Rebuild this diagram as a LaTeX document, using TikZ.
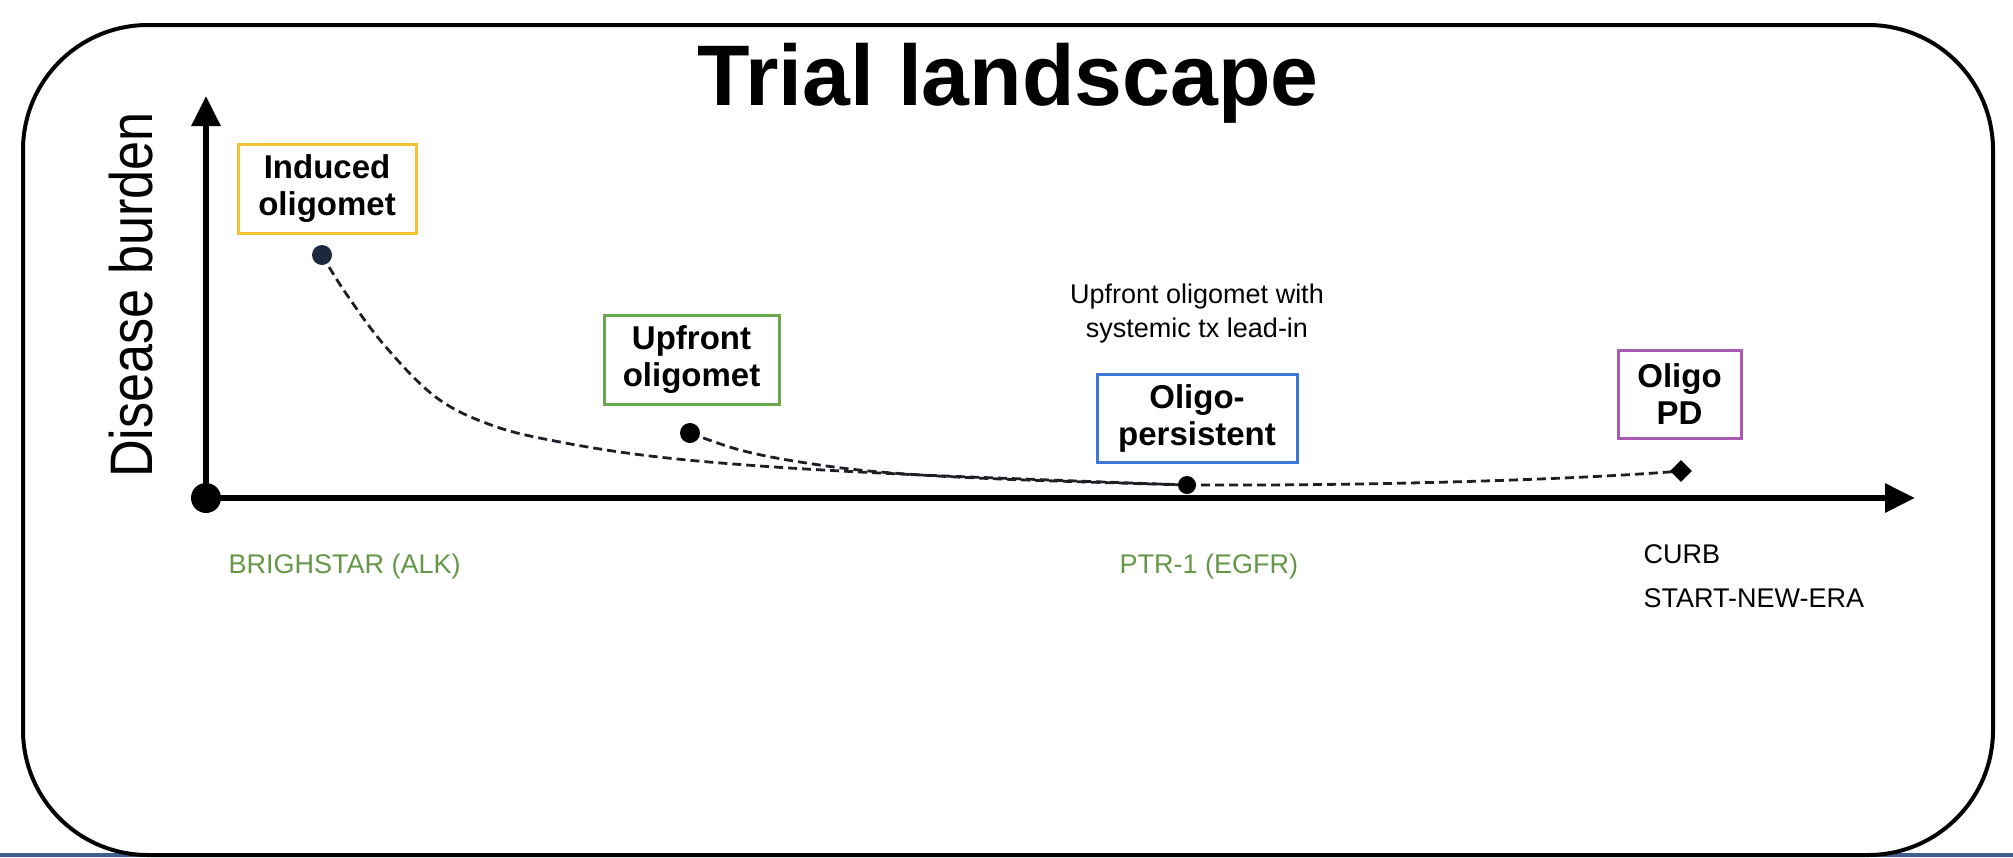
\documentclass[tikz,border=0pt]{standalone}
\usepackage{fontspec}
\setmainfont{Liberation Sans}
\usetikzlibrary{arrows.meta,shapes.geometric}

\definecolor{boxyellow}{RGB}{241,194,50}
\definecolor{boxgreen}{RGB}{106,168,79}
\definecolor{boxblue}{RGB}{60,120,216}
\definecolor{boxpurple}{RGB}{166,90,176}
\definecolor{trialgreen}{RGB}{100,152,72}
\definecolor{navydot}{RGB}{28,40,62}
\definecolor{barblue}{RGB}{62,96,140}
\definecolor{barlight}{RGB}{200,210,222}
\definecolor{curvegray}{RGB}{30,30,38}

\pgfdeclarelayer{background}
\pgfsetlayers{background,main}

\begin{document}
\begin{tikzpicture}[x=1pt,y=-1pt,
  stagebox/.style={draw=#1, line width=3pt, fill=white, align=center,
    inner sep=0pt, font=\fontsize{33}{37}\selectfont\bfseries},
  dot/.style={circle, fill=black, minimum size=20pt, inner sep=0pt},
  axisline/.style={line width=6pt, -{Triangle[length=30pt,width=28pt]}},
  trend/.style={curvegray, line width=2.8pt, dash pattern=on 9pt off 5pt},
  trial/.style={anchor=base west, font=\fontsize{27}{33}\selectfont},
]
\useasboundingbox (0,0) rectangle (2013,857);

% slide footer strip
\fill[barblue] (0,853) rectangle (1264,857);
\fill[barlight] (1264,853) rectangle (1680,857);
\fill[barblue] (1680,853) rectangle (2013,857);

% outer rounded frame
\draw[line width=4pt, rounded corners=125pt] (23,25) rectangle (1993,855);

% title
\node[anchor=base, font=\fontsize{86}{90}\selectfont\bfseries] (title)
  at (1008,105) {Trial landscape};

% axes
\node[circle, fill=black, minimum size=30pt, inner sep=0pt] (origin) at (206,498) {};
\coordinate (ytop) at (206,96);
\coordinate (xend) at (1915,498);
\draw[axisline] (origin.center) -- (ytop);
\draw[axisline] (origin.center) -- (xend);

\node[rotate=90, font=\fontsize{60}{60}\selectfont] (ylabel) at (131,295)
  {\scalebox{0.87}[1]{Disease burden}};

% disease stages
\node[stagebox=boxyellow, minimum width=178pt, minimum height=89pt] (induced)
  at (327,188.5) {Induced\\oligomet};
\node[stagebox=boxgreen, minimum width=175pt, minimum height=89pt] (upfront)
  at (691.5,359.5) {Upfront\\oligomet};
\node[stagebox=boxblue, minimum width=200pt, minimum height=88pt] (persist)
  at (1197,418) {Oligo-\\persistent};
\node[stagebox=boxpurple, minimum width=123pt, minimum height=88pt] (oligopd)
  at (1679.5,394) {Oligo\\PD};

\node[align=center, font=\fontsize{27}{34}\selectfont] (leadin) at (1197,314)
  {Upfront oligomet with\\systemic tx lead-in};

% markers on the trend
\node[dot, fill=navydot] (p1) at (322,255) {};
\node[dot] (p2) at (690,433) {};
\node[dot, minimum size=18pt] (p3) at (1187,485) {};
\node[diamond, fill=black, minimum size=22pt, inner sep=0pt] (pd) at (1681,471) {};

\begin{pgfonlayer}{background}
\draw[trend] plot[smooth, tension=0.6] coordinates {(p1.center) (345,292) (385,346)
  (437,398) (494,426) (560,442) (650,456) (760,466) (900,474) (1050,480) (p3.center)};
\draw[trend] plot[smooth, tension=0.6] coordinates {(p2.center) (740,450) (800,462)
  (880,472) (1000,479) (p3.center)};
\draw[trend] (p3.center) .. controls (1400,486) and (1600,478) .. (pd.center);
\end{pgfonlayer}

% trials
\node[trial, text=trialgreen] (brig) at (225,573) {BRIGHSTAR (ALK)};
\node[trial, text=trialgreen] (ptr) at (1116,573) {PTR-1 (EGFR)};
\node[trial] (curb) at (1640,563) {CURB};
\node[trial] (sne) at (1640,607) {START-NEW-ERA};
\end{tikzpicture}
\end{document}
